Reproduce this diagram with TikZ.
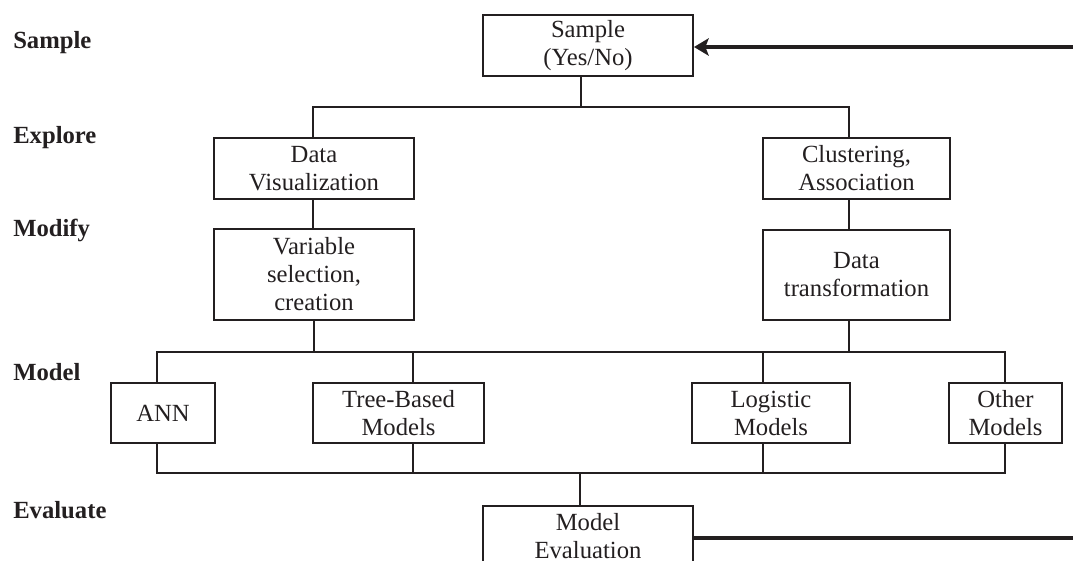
\documentclass[tikz,border=0pt]{standalone}
\usepackage{fontspec}
\setmainfont{Liberation Serif}
\usetikzlibrary{arrows.meta}
\definecolor{ink}{RGB}{35,31,32}
\tikzset{
  box/.style={draw=ink, line width=1.5pt, rectangle, align=center, inner sep=0pt,
    text=ink, font=\fontsize{18.5}{21}\selectfont},
  link/.style={draw=ink, line width=1.5pt},
  heavy/.style={draw=ink, line width=3.6pt},
  stagelabel/.style={anchor=west, inner sep=0pt, text=ink, font=\fontsize{18.5}{21}\selectfont\bfseries},
}
\begin{document}
\begin{tikzpicture}[x=0.75pt,y=-0.75pt]
\useasboundingbox (0,0) rectangle (1073,560);

% stage labels
\node[stagelabel] (lsample) at (13,43) {Sample};
\node[stagelabel] (lexplore) at (13,138) {Explore};
\node[stagelabel] (lmodify) at (13,230) {Modify};
\node[stagelabel] (lmodel) at (13,372) {Model};
\node[stagelabel] (levaluate) at (13,510) {Evaluate};

% boxes
\node[box, minimum width=210pt*0.75, minimum height=61pt*0.75] (samp) at (588,45.5) {Sample\\(Yes/No)};
\node[box, minimum width=200pt*0.75, minimum height=61pt*0.75] (vis) at (314,168.5) {Data\\Visualization};
\node[box, minimum width=187pt*0.75, minimum height=61pt*0.75] (clus) at (856.5,168.5) {Clustering,\\Association};
\node[box, minimum width=200pt*0.75, minimum height=91pt*0.75] (var) at (314,274.5) {Variable\\selection,\\creation};
\node[box, minimum width=187pt*0.75, minimum height=90pt*0.75] (trans) at (856.5,275) {Data\\transformation};
\node[box, minimum width=104pt*0.75, minimum height=60pt*0.75] (ann) at (163,413) {ANN};
\node[box, minimum width=171pt*0.75, minimum height=60pt*0.75] (tree) at (398.5,413) {Tree-Based\\Models};
\node[box, minimum width=158pt*0.75, minimum height=60pt*0.75] (logi) at (771,413) {Logistic\\Models};
\node[box, minimum width=113pt*0.75, minimum height=60pt*0.75] (other) at (1005.5,413) {Other\\Models};
\node[box, minimum width=210pt*0.75, minimum height=60pt*0.75] (eval) at (588,536) {Model\\Evaluation};

% bus coordinates
\coordinate (ts) at (581,107);
\coordinate (tl) at (313,107);
\coordinate (tr) at (849,107);
\coordinate (m1) at (157,352);
\coordinate (m2) at (413,352);
\coordinate (m3) at (763,352);
\coordinate (m4) at (1005,352);
\coordinate (n1) at (157,473);
\coordinate (n2) at (413,473);
\coordinate (n3) at (763,473);
\coordinate (n4) at (1005,473);
\coordinate (ne) at (580,473);
\coordinate (ain) at (1073,47);
\coordinate (aout) at (1073,538);

% top tree
\draw[link] (samp.south -| ts) -- (ts);
\draw[link] (vis.north -| tl) -- (tl) -- (tr) -- (clus.north -| tr);
\draw[link] (vis.south -| tl) -- (var.north -| tl);
\draw[link] (clus.south -| tr) -- (trans.north -| tr);

% middle bus
\draw[link] (var.south) -- (var.south |- m1);
\draw[link] (trans.south -| tr) -- (tr |- m1);
\draw[link] (ann.north -| m1) -- (m1) -- (m4) -- (other.north -| m4);
\draw[link] (tree.north -| m2) -- (m2);
\draw[link] (logi.north -| m3) -- (m3);

% bottom bus
\draw[link] (ann.south -| n1) -- (n1) -- (n4) -- (other.south -| n4);
\draw[link] (tree.south -| n2) -- (n2);
\draw[link] (logi.south -| n3) -- (n3);
\draw[link] (ne) -- (eval.north -| ne);

% feedback lines
\draw[heavy, -{Stealth[length=11pt,width=13pt,inset=2.5pt]}] (ain) -- (samp.east |- ain);
\draw[heavy] (eval.east |- aout) -- (aout);
\end{tikzpicture}
\end{document}
